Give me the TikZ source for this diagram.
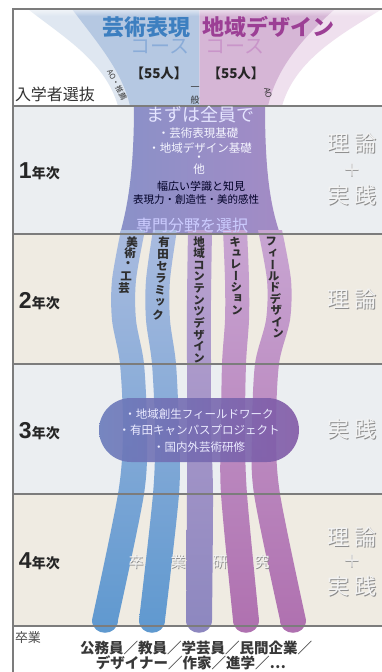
\documentclass[tikz,border=0pt]{standalone}
\usepackage{fontspec}
\setmainfont{Noto Sans CJK JP}
\newfontfamily\vjp[RawFeature=+vert]{Noto Sans CJK JP}
\newfontfamily\lat{Liberation Sans}
\usetikzlibrary{fadings}
\definecolor{bdgray}{HTML}{7C7C7C}
\definecolor{rowA}{HTML}{EBEEF1}
\definecolor{rowB}{HTML}{EFEBE2}
\definecolor{fbo}{HTML}{DFE7F1}
\definecolor{fbi}{HTML}{B5C8E2}
\definecolor{fpo}{HTML}{EFE0EE}
\definecolor{fpi}{HTML}{D6B6D6}
\definecolor{tblue}{HTML}{3D7FC0}
\definecolor{tpurple}{HTML}{9C3F95}
\definecolor{cblue}{HTML}{8AACD8}
\definecolor{cpink}{HTML}{C995C9}
\definecolor{colL}{HTML}{8A91C8}
\definecolor{colR}{HTML}{A38BC5}
\definecolor{b1t}{HTML}{A9BBDF}
\definecolor{b1m}{HTML}{7FA6D7}
\definecolor{b1b}{HTML}{5E98CF}
\definecolor{b3t}{HTML}{BBA2D0}
\definecolor{b3m}{HTML}{A39BCB}
\definecolor{b3b}{HTML}{8C87BF}
\definecolor{b4t}{HTML}{C8A5D2}
\definecolor{b4m}{HTML}{BF8FC4}
\definecolor{b4b}{HTML}{AF70AF}
\definecolor{elL}{HTML}{6A7BBB}
\definecolor{elR}{HTML}{8259A6}
\definecolor{embsh}{HTML}{8E8E8E}
\definecolor{embfg}{HTML}{F3F3F3}
\definecolor{txtd}{HTML}{2E2E2E}
\newcommand\emb[4]{%
  \node[text=embsh, font=\fontsize{#3}{#3}\selectfont] (#1s) at ([shift={(0.8,0.8)}]#2) {#4};
  \node[text=embfg, font=\fontsize{#3}{#3}\selectfont] (#1) at (#2) {#4};}
\begin{document}
\begin{tikzpicture}[x=1pt,y=-1pt,
  every node/.style={inner sep=0pt, outer sep=0pt},
  bd/.style={draw=bdgray, line width=1.8pt},
  bt/.style={text=txtd, font=\vjp\fontsize{11.5}{11.5}\selectfont\bfseries},
  ct/.style={text=white!96!blue, font=\fontsize{11.5}{11.5}\selectfont},
  cd/.style={text=black!85!blue, font=\fontsize{10.5}{10.5}\selectfont},
  yr/.style={anchor=base west, text=black!85}]
\useasboundingbox (0,0) rectangle (382,672);
\fill[white] (0,0) rectangle (382,672);
% row backgrounds
\fill[rowA] (13,106) rectangle (382,234);
\fill[rowB] (13,234) rectangle (382,364);
\fill[rowA] (13,364) rectangle (382,494);
\fill[rowB] (13,494) rectangle (382,626);
% funnel
\begin{scope}
\clip (13,9) rectangle (199.5,106);
\fill[fbo] (28,9) .. controls (60,35) and (105,60) .. (118,106) -- (282,106) .. controls (295,60) and (340,35) .. (382,9) -- cycle;
\fill[fbi] (72,9) .. controls (95,40) and (122,70) .. (130,106) -- (268,106) .. controls (276,70) and (300,40) .. (335,9) -- cycle;
\end{scope}
\begin{scope}
\clip (199.5,9) rectangle (382,106);
\fill[fpo] (28,9) .. controls (60,35) and (105,60) .. (118,106) -- (282,106) .. controls (295,60) and (340,35) .. (382,9) -- cycle;
\fill[fpi] (72,9) .. controls (95,40) and (122,70) .. (130,106) -- (268,106) .. controls (276,70) and (300,40) .. (335,9) -- cycle;
\end{scope}
\fill[white, path fading=south, fill opacity=0.6] (13,9) rectangle (382,16);
% first-year column
\shade[left color=colL, right color=colR] (134,106) .. controls (134,170) and (128,205) .. (120,234) -- (280,234) .. controls (270,205) and (265,170) .. (265,106) -- cycle;
% bands
\shade[top color=b1t, middle color=b1m, bottom color=b1b] plot[smooth] coordinates {(121,230) (112,280) (112,320) (120,364) (123,430) (118,494) (92,620)}
  .. controls (92,637) and (118,637) .. (118,620)
  -- plot[smooth] coordinates {(118,620) (144,494) (147,430) (144,364) (136,320) (136,280) (145,230)} -- cycle;
\shade[top color=b1t, middle color=b1m, bottom color=b1b] plot[smooth] coordinates {(153,230) (146,280) (146,320) (152,364) (155,430) (153,494) (139,620)}
  .. controls (139,637) and (165,637) .. (165,620)
  -- plot[smooth] coordinates {(165,620) (179,494) (179,430) (176,364) (170,320) (170,280) (177,230)} -- cycle;
\shade[top color=b3t, middle color=b3m, bottom color=b3b] plot[smooth] coordinates {(188,230) (187,300) (187,364) (187,430) (187,494) (186,620)}
  .. controls (186,637) and (212,637) .. (212,620)
  -- plot[smooth] coordinates {(212,620) (213,494) (211,430) (211,364) (211,300) (212,230)} -- cycle;
\shade[top color=b4t, middle color=b4m, bottom color=b4b] plot[smooth] coordinates {(223,230) (225,280) (225,320) (222,364) (221,430) (221,494) (233,620)}
  .. controls (233,637) and (259,637) .. (259,620)
  -- plot[smooth] coordinates {(259,620) (247,494) (245,430) (246,364) (249,320) (249,280) (247,230)} -- cycle;
\shade[top color=b4t, middle color=b4m, bottom color=b4b] plot[smooth] coordinates {(258,230) (267,280) (266,320) (255,364) (252,430) (254,494) (280,620)}
  .. controls (280,637) and (306,637) .. (306,620)
  -- plot[smooth] coordinates {(306,620) (280,494) (276,430) (279,364) (290,320) (291,280) (282,230)} -- cycle;
% third-year oval
\shade[left color=elL, right color=elR, fill opacity=0.9, rounded corners=32pt] (99,398) rectangle (299,462);
% borders
\draw[bd] (13,672) -- (13,9) -- (382,9);
\foreach \yy in {106,234,364,494,626} \draw[bd] (13,\yy) -- (382,\yy);
% title
\node[text=tblue, font=\fontsize{22}{22}\selectfont\bfseries] (t1) at (146,27) {芸術表現};
\node[text=tpurple, font=\fontsize{22}{22}\selectfont\bfseries] (t2) at (268,27) {地域デザイン};
\node[text=cblue, font=\fontsize{20}{20}\selectfont] (c1) at (160,47) {コース};
\node[text=cpink, font=\fontsize{20}{20}\selectfont] (c2) at (235,47) {コース};
\node[text=black!85, font=\fontsize{13.5}{13.5}\selectfont\bfseries] (n1) at (159,73) {【55人】};
\node[text=black!85, font=\fontsize{13.5}{13.5}\selectfont\bfseries] (n2) at (236,73) {【55人】};
\node[anchor=west, text=black!80, font=\fontsize{16}{16}\selectfont] (sel) at (15,94) {入学者選抜};
\node[text=black!80, font=\fontsize{7.5}{7.5}\selectfont, rotate=-62] (ao1) at (117,85) {AO・推薦};
\node[text=black!80, font=\fontsize{8}{8}\selectfont, rotate=-80] (ao2) at (268,93) {AO};
\node[text=black!80, font=\fontsize{9}{9}\selectfont] (ip1) at (195,89) {一};
\node[text=black!80, font=\fontsize{9}{9}\selectfont] (ip2) at (195,100) {般};
% first year texts
\node[text=white!90!blue, font=\fontsize{18}{18}\selectfont] (all) at (200,115) {まずは全員で};
\node[ct] (k1) at (198,133) {・芸術表現基礎};
\node[ct] (k2) at (200,148) {・地域デザイン基礎};
\node[ct] (k3) at (199,159) {・};
\node[ct] (k4) at (199,169) {他};
\node[cd, font=\fontsize{11}{11}\selectfont] (k5) at (201,186) {幅広い学識と知見};
\node[cd] (k6) at (196,200) {表現力・創造性・美的感性};
\node[text=white!80!blue, font=\fontsize{16}{16}\selectfont] (sel2) at (192,225) {専門分野を選択};
% redraw border over the selection text
\draw[bd] (13,234) -- (382,234);
% band labels
\foreach \c [count=\i from 0] in {美,術,・,工,芸}
  \node[bt] (ba\i) at ({132-8*\i/4},{242+46*\i/4}) {\c};
\foreach \c [count=\i from 0] in {有,田,セ,ラ,ミ,ッ,ク}
  \node[bt] (bb\i) at ({164-6*\i/6},{242+73*\i/6}) {\c};
\foreach \c [count=\i from 0] in {地,域,コ,ン,テ,ン,ツ,デ,ザ,イ,ン}
  \node[bt] (bc\i) at (199,{242+116*\i/10}) {\c};
\foreach \c [count=\i from 0] in {キ,ュ,レ,ー,シ,ョ,ン}
  \node[bt] (bd\i) at ({235+2*\i/6},{242+68*\i/6}) {\c};
\foreach \c [count=\i from 0] in {フ,ィ,ー,ル,ド,デ,ザ,イ,ン}
  \node[bt] (be\i) at ({271+7*\i/8},{242+91*\i/8}) {\c};
% oval text
\node[text=white!92!blue, font=\fontsize{11.5}{11.5}\selectfont] (o1) at (199,414) {・地域創生フィールドワーク};
\node[text=white!92!blue, font=\fontsize{11.5}{11.5}\selectfont] (o2) at (199,430) {・有田キャンパスプロジェクト};
\node[text=white!92!blue, font=\fontsize{11.5}{11.5}\selectfont] (o3) at (199,447) {・国内外芸術研修};
% graduation research
\emb{g1}{136,562}{15}{卒}
\emb{g2}{178,562}{15}{業}
\emb{g3}{220,562}{15}{研}
\emb{g4}{262,562}{15}{究}
% year labels
\node[yr] (y1) at (19,178) {{\lat\fontsize{23}{23}\selectfont\bfseries 1}{\fontsize{14}{14}\selectfont\bfseries 年次}};
\node[yr] (y2) at (19,308) {{\lat\fontsize{23}{23}\selectfont\bfseries 2}{\fontsize{14}{14}\selectfont\bfseries 年次}};
\node[yr] (y3) at (19,438) {{\lat\fontsize{23}{23}\selectfont\bfseries 3}{\fontsize{14}{14}\selectfont\bfseries 年次}};
\node[yr] (y4) at (19,568) {{\lat\fontsize{23}{23}\selectfont\bfseries 4}{\fontsize{14}{14}\selectfont\bfseries 年次}};
% theory / practice
\emb{r1a}{352,143}{22}{理\hspace{5pt}論}
\emb{r1b}{352,170}{18}{＋}
\emb{r1c}{352,195}{22}{実\hspace{5pt}践}
\emb{r2a}{352,299}{22}{理\hspace{5pt}論}
\emb{r3a}{352,429}{22}{実\hspace{5pt}践}
\emb{r4a}{352,537}{22}{理\hspace{5pt}論}
\emb{r4b}{352,561}{18}{＋}
\emb{r4c}{352,586}{22}{実\hspace{5pt}践}
% graduation
\node[anchor=west, text=black!70, font=\fontsize{13}{13}\selectfont] (grad) at (15,638) {卒業};
\node[text=black!78, font=\fontsize{14.5}{14.5}\selectfont\bfseries] (j1) at (196,648) {公務員／教員／学芸員／民間企業／};
\node[text=black!78, font=\fontsize{14.5}{14.5}\selectfont\bfseries] (j2) at (191,663) {デザイナー／作家／進学／…};
\end{tikzpicture}
\end{document}
